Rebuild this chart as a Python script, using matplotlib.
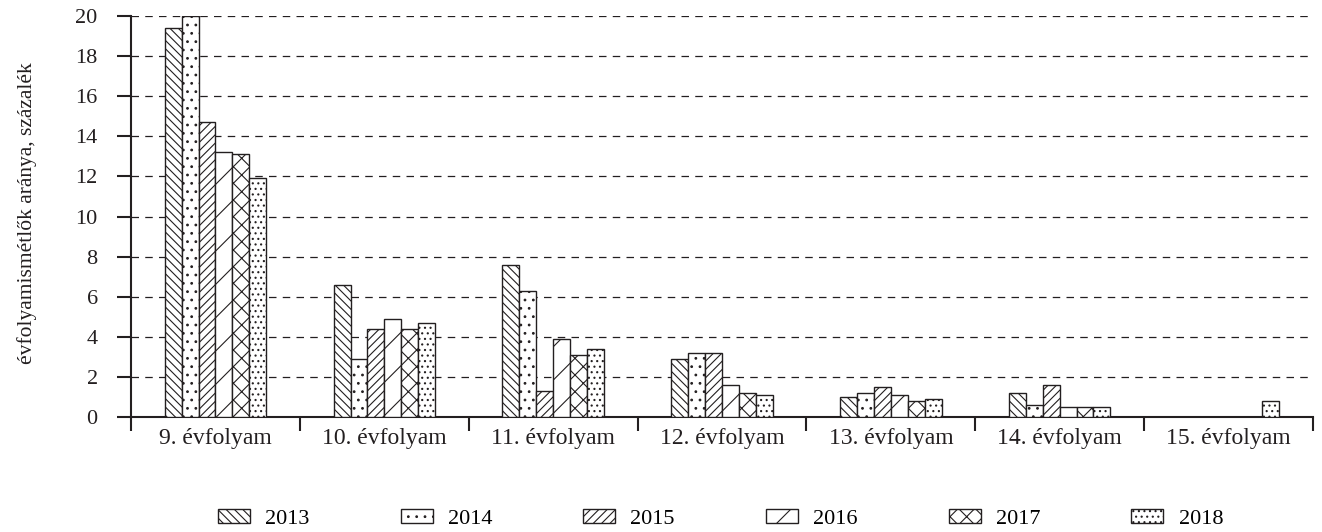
import numpy as np
import matplotlib.pyplot as plt

plt.rcParams['font.family'] = ['Liberation Serif', 'DejaVu Serif']
plt.rcParams['hatch.linewidth'] = 0.8

categories = ["9. évfolyam", "10. évfolyam", "11. évfolyam", "12. évfolyam",
              "13. évfolyam", "14. évfolyam", "15. évfolyam"]
years = ["2013", "2014", "2015", "2016", "2017", "2018"]

v2013 = [19.4, 6.6, 7.6, 2.9, 1.0, 1.2, np.nan]
v2014 = [20.0, 2.9, 6.3, 3.2, 1.2, 0.6, np.nan]
v2015 = [14.7, 4.4, 1.3, 3.2, 1.5, 1.6, np.nan]
v2016 = [13.2, 4.9, 3.9, 1.6, 1.1, 0.5, np.nan]
v2017 = [13.1, 4.4, 3.1, 1.2, 0.8, 0.5, np.nan]
v2018 = [11.9, 4.7, 3.4, 1.1, 0.9, 0.5, 0.8]

series = [v2013, v2014, v2015, v2016, v2017, v2018]
hatches = ['\\\\\\\\', '..', '////', '/', 'xx', '...']
ink = '#231f20'

fig, ax = plt.subplots(figsize=(13.22, 5.32), dpi=100)
fig.subplots_adjust(left=131/1322, right=1313/1322, top=1-16/532, bottom=1-417/532)

x = np.arange(len(categories))
w = 0.1
for i, vals in enumerate(series):
    ax.bar(x + (i - 2.5) * w, vals, w, color='white', edgecolor=ink,
           hatch=hatches[i], linewidth=1, label=years[i], zorder=3)

ax.set_xlim(-0.5, len(categories) - 0.5)
ax.set_ylim(0, 20)
ax.set_yticks(range(0, 21, 2))
ax.yaxis.grid(True, linestyle=(0, (6, 5)), color=ink, linewidth=0.9)
ax.set_axisbelow(True)

ax.set_xticks(x)
ax.set_xticklabels(categories)
ax.set_xticks(np.arange(-0.5, len(categories), 1), minor=True)
ax.tick_params(axis='x', which='major', length=0, pad=8, labelsize=17, colors=ink)
ax.tick_params(axis='x', which='minor', length=10, width=1.5, direction='out', color=ink)
ax.tick_params(axis='y', length=10, width=1.5, direction='out', pad=14, labelsize=16, colors=ink)

for s in ['top', 'right']:
    ax.spines[s].set_visible(False)
for s in ['left', 'bottom']:
    ax.spines[s].set_linewidth(1.5)
    ax.spines[s].set_color(ink)

fig.text(27/1322, 1-213/532, "évfolyamismétlők aránya, százalék", rotation=90,
         ha='center', va='center', fontsize=15.5, color=ink)

ax.legend(loc='center', bbox_to_anchor=(0.545, 0.025), bbox_transform=fig.transFigure,
          ncol=6, frameon=False, handlelength=1.44, handleheight=0.6,
          handletextpad=0.68, columnspacing=4.1, fontsize=16)

plt.savefig("out.png", dpi=100)
